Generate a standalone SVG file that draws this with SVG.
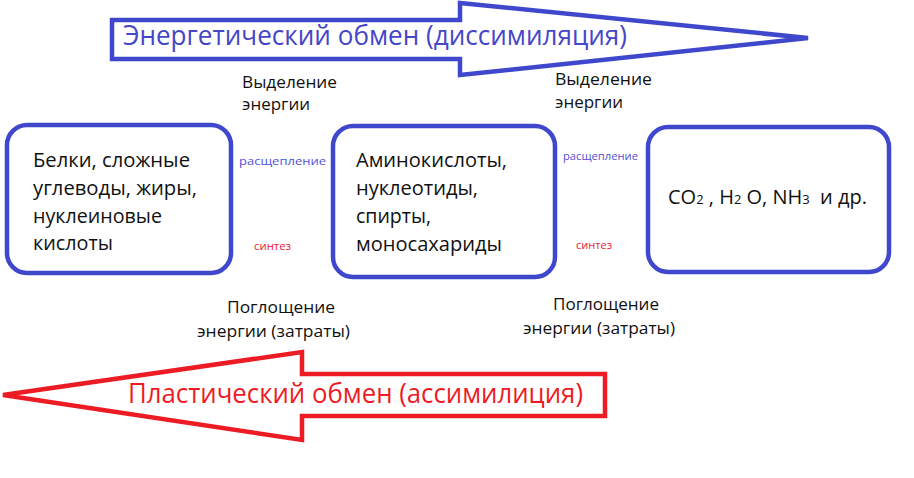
<svg xmlns="http://www.w3.org/2000/svg" width="914" height="478" viewBox="0 0 914 478">
<style>
.bg{fill:#ffffff}
.box{fill:#ffffff;stroke:#3f48cc;stroke-width:4.5}
.arrB{fill:none;stroke:#3f48cc;stroke-width:4.5;stroke-linejoin:miter}
.arrR{fill:none;stroke:#ed1c24;stroke-width:4.5;stroke-linejoin:miter}
text{font-family:"Open Sans","Noto Sans","DejaVu Sans",sans-serif;fill:#111111}
.node{font-size:20px}
.lbl{font-size:16px}
.titB{font-size:27px;fill:#4646c8}
.titR{font-size:27px;fill:#ed1c24}
.sp{font-size:11.5px;fill:#5050d8}
.sy{font-size:11.5px;fill:#ed2030}
</style>
<rect class="bg" x="0" y="0" width="914" height="478"/>
<g id="connectors">
  <g id="arrow-energy">
    <path class="arrB" d="M112,20 L460,20 L460,3 L808,38 L460,75 L460,59 L112,59 Z"/>
    <text class="titB" x="123" y="45" textLength="504" lengthAdjust="spacingAndGlyphs">Энергетический обмен (диссимиляция)</text>
  </g>
  <g id="arrow-plastic">
    <path class="arrR" d="M605,374 L302,374 L302,352 L3,395 L302,440 L302,416 L605,416 Z"/>
    <text class="titR" x="128" y="403" textLength="455" lengthAdjust="spacingAndGlyphs">Пластический обмен (ассимилиция)</text>
  </g>
  <g id="labels">
    <text class="lbl" x="242" y="88" textLength="95" lengthAdjust="spacingAndGlyphs">Выделение</text>
    <text class="lbl" x="242" y="110" textLength="68" lengthAdjust="spacingAndGlyphs">энергии</text>
    <text class="lbl" x="555" y="85" textLength="97" lengthAdjust="spacingAndGlyphs">Выделение</text>
    <text class="lbl" x="555" y="108" textLength="68" lengthAdjust="spacingAndGlyphs">энергии</text>
    <text class="sp" x="239" y="165" textLength="87" lengthAdjust="spacingAndGlyphs">расщепление</text>
    <text class="sy" x="254" y="250" textLength="37" lengthAdjust="spacingAndGlyphs">синтез</text>
    <text class="sp" x="563" y="160" textLength="75" lengthAdjust="spacingAndGlyphs">расщепление</text>
    <text class="sy" x="576" y="249" textLength="36" lengthAdjust="spacingAndGlyphs">синтез</text>
    <text class="lbl" x="227" y="313" textLength="108" lengthAdjust="spacingAndGlyphs">Поглощение</text>
    <text class="lbl" x="197" y="337" textLength="153" lengthAdjust="spacingAndGlyphs">энергии (затраты)</text>
    <text class="lbl" x="553" y="310" textLength="106" lengthAdjust="spacingAndGlyphs">Поглощение</text>
    <text class="lbl" x="523" y="334" textLength="152" lengthAdjust="spacingAndGlyphs">энергии (затраты)</text>
  </g>
</g>
<g id="node-polymers">
  <rect class="box" x="7" y="125" width="224" height="148" rx="20"/>
  <text class="node" x="33" y="167" textLength="157" lengthAdjust="spacingAndGlyphs">Белки, сложные</text>
  <text class="node" x="33" y="195" textLength="164" lengthAdjust="spacingAndGlyphs">углеводы, жиры,</text>
  <text class="node" x="33" y="223" textLength="129" lengthAdjust="spacingAndGlyphs">нуклеиновые</text>
  <text class="node" x="33" y="250" textLength="80" lengthAdjust="spacingAndGlyphs">кислоты</text>
</g>
<g id="node-monomers">
  <rect class="box" x="333" y="126" width="222" height="151" rx="20"/>
  <text class="node" x="356" y="167" textLength="151" lengthAdjust="spacingAndGlyphs">Аминокислоты,</text>
  <text class="node" x="356" y="195" textLength="122" lengthAdjust="spacingAndGlyphs">нуклеотиды,</text>
  <text class="node" x="356" y="223" textLength="75" lengthAdjust="spacingAndGlyphs">спирты,</text>
  <text class="node" x="356" y="251" textLength="146" lengthAdjust="spacingAndGlyphs">моносахариды</text>
</g>
<g id="node-products">
  <rect class="box" x="648" y="127" width="241" height="145" rx="20"/>
  <text class="node" x="668" y="204" xml:space="preserve">CO<tspan font-size="13">2</tspan> , H<tspan font-size="13">2</tspan> O, NH<tspan font-size="13">3</tspan>  и др.</text>
</g>
</svg>
